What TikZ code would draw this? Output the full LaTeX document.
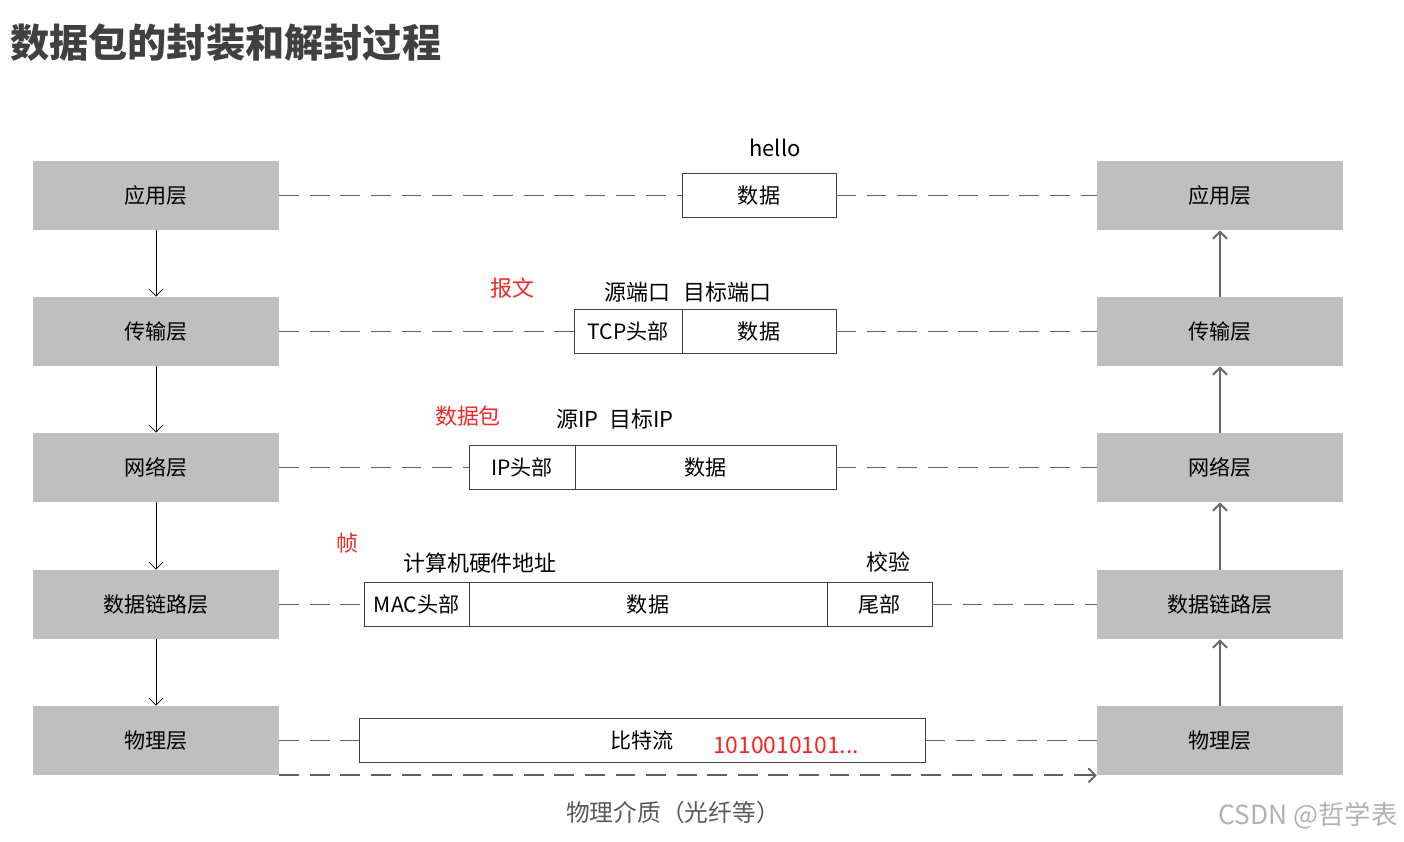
\documentclass[tikz,border=0pt]{standalone}
\usepackage{fontspec}
\setmainfont{Noto Sans CJK SC}
\usepackage{tikz}
\usetikzlibrary{positioning,arrows.meta}
\definecolor{layercolor}{RGB}{191,191,191}
\definecolor{linecolor}{RGB}{96,96,96}
\definecolor{redtext}{RGB}{240,40,40}
\definecolor{titlecolor}{RGB}{64,64,64}

\begin{document}
\begin{tikzpicture}[x=0.02cm,y=-0.02cm,
layer/.style={fill=layercolor,minimum width=4.92cm,minimum height=1.38cm,font=\fontsize{12}{14}\selectfont},
cell/.style={draw=black!75,fill=white,minimum height=0.88cm,inner sep=0pt,outer sep=0pt,font=\fontsize{12}{14}\selectfont},
lbl/.style={font=\fontsize{12.5}{15}\selectfont},
tag/.style={text=redtext,font=\fontsize{12.5}{15}\selectfont},
link/.style={draw=linecolor,line width=1pt,dash pattern=on 11.3pt off 6.1pt},
down/.style={-{Straight Barb[length=4pt,width=8pt]},thin},
up/.style={-{Straight Barb[length=4pt,width=8pt]},draw=black!60,line width=1.1pt}]
\useasboundingbox (0,0) rectangle (1404,842);
\node[anchor=west,text=titlecolor,font=\fontsize{22.3}{26}\selectfont\bfseries] (title) at (4,43) {数据包的封装和解封过程};
% sender side
\node[layer] (l1) at (156,195.5) {应用层};
\node[layer] (l2) at (156,331.5) {传输层};
\node[layer] (l3) at (156,467.5) {网络层};
\node[layer] (l4) at (156,604.5) {数据链路层};
\node[layer] (l5) at (156,740.5) {物理层};
% receiver side
\node[layer] (r1) at (1220,195.5) {应用层};
\node[layer] (r2) at (1220,331.5) {传输层};
\node[layer] (r3) at (1220,467.5) {网络层};
\node[layer] (r4) at (1220,604.5) {数据链路层};
\node[layer] (r5) at (1220,740.5) {物理层};
% packets
\node[cell,minimum width=3.08cm] (d1) at (759,195.5) {数据};
\node[cell,minimum width=3.08cm] (d2) at (759,331.5) {数据};
\node[cell,minimum width=2.16cm,left=0pt of d2] (h2) {TCP头部};
\node[cell,minimum width=5.22cm] (d3) at (705.5,467.5) {数据};
\node[cell,minimum width=2.12cm,left=0pt of d3] (h3) {IP头部};
\node[cell,minimum width=7.16cm] (d4) at (648,604.5) {数据};
\node[cell,minimum width=2.1cm,left=0pt of d4] (h4) {MAC头部};
\node[cell,minimum width=2.1cm,right=0pt of d4] (t4) {尾部};
\node[cell,minimum width=11.32cm] (d5) at (642,740.5) {比特流};
% labels
\node[lbl] (hello) at (775,148) {hello};
\node[lbl] (ports) at (688,292) {源端口\hspace{0.6em}目标端口};
\node[lbl] (ips) at (615,419) {源IP\hspace{0.5em}目标IP};
\node[lbl] (mac) at (480,563) {计算机硬件地址};
\node[lbl] (check) at (888,562) {校验};
\node[tag] (seg) at (512,288) {报文};
\node[tag] (pkt) at (468,416) {数据包};
\node[tag] (frm) at (347,543) {帧};
\node[tag,font=\fontsize{13}{15}\selectfont] (bits) at (786,745) {1010010101...};
\node[text=black!65,font=\fontsize{13.5}{16}\selectfont] (medium) at (673,812) {物理介质（光纤等）};
\node[text=black!30,font=\fontsize{15}{18}\selectfont] (mark) at (1308,816) {CSDN @哲学表};
% connectors
\draw[down](l1)--(l2); \draw[down](l2)--(l3); \draw[down](l3)--(l4); \draw[down](l4)--(l5);
\draw[up](r5)--(r4); \draw[up](r4)--(r3); \draw[up](r3)--(r2); \draw[up](r2)--(r1);
\draw[link](l1)--(d1); \draw[link](d1)--(r1);
\draw[link](l2)--(h2); \draw[link](d2)--(r2);
\draw[link](l3)--(h3); \draw[link](d3)--(r3);
\draw[link](l4)--(h4); \draw[link](t4)--(r4);
\draw[link](l5)--(d5); \draw[link](d5)--(r5);
\draw[link,-{Straight Barb[length=4pt,width=8pt]}](l5.south east)--(r5.south west);
\end{tikzpicture}
\end{document}
